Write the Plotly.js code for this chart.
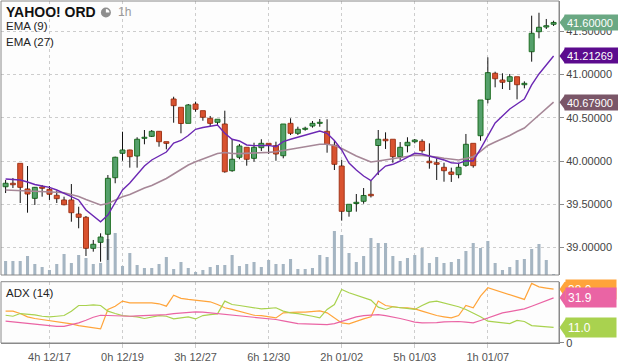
<!DOCTYPE html>
<html><head><meta charset="utf-8">
<script src="https://cdn.plot.ly/plotly-3.0.1.min.js"></script>
<style>html,body{margin:0;padding:0;background:#fff;}#chart{width:618px;height:363px;}</style>
</head><body><div id="chart"></div>
<script>
// ---- data ----
const tickIndex = [6,16,26,36,46,56,66];
const tickLabels = ['4h 12/17','0h 12/19','3h 12/27','6h 12/30','2h 01/02','5h 01/03','1h 01/07'];

const openP  = [39.703,39.743,39.973,39.677,39.569,39.700,39.673,39.604,39.550,39.550,39.388,39.350,38.992,39.061,39.154,39.807,40.089,40.127,40.058,40.262,40.285,40.343,40.223,40.716,40.620,40.435,40.658,40.581,40.493,40.447,40.427,39.888,40.043,40.158,40.031,40.154,40.204,40.177,40.061,40.435,40.320,40.366,40.404,40.435,40.343,40.182,39.942,39.419,39.509,39.535,39.615,40.179,40.251,40.251,40.050,40.177,40.223,40.227,39.997,39.980,39.927,39.873,39.842,39.950,40.204,40.292,40.712,41.013,40.935,40.920,40.973,40.881,41.262,41.493,41.547,41.579];
const highP  = [39.781,39.804,39.973,39.942,39.700,39.723,39.711,39.657,39.588,39.734,39.472,39.365,39.088,39.165,39.838,40.050,40.338,40.130,40.274,40.358,40.358,40.346,40.223,40.742,40.620,40.658,40.685,40.581,40.520,40.482,40.581,40.251,40.196,40.158,40.211,40.251,40.204,40.223,40.427,40.493,40.396,40.396,40.462,40.485,40.482,40.242,40.012,39.500,39.619,39.688,39.773,40.358,40.331,40.251,40.219,40.274,40.254,40.251,40.204,40.031,39.980,39.923,39.980,40.312,40.204,40.704,41.197,41.031,41.013,41.005,40.973,40.920,41.678,41.712,41.640,41.620];
const lowP   = [39.630,39.688,39.515,39.403,39.492,39.588,39.550,39.515,39.488,39.299,39.223,38.903,38.953,38.837,38.857,39.743,40.003,39.923,39.923,40.193,40.277,40.165,40.135,40.442,40.320,40.435,40.569,40.465,40.396,40.416,39.865,39.876,40.020,39.946,39.992,40.115,40.081,40.003,40.031,40.300,40.300,40.350,40.385,40.396,40.096,39.896,39.311,39.357,39.415,39.507,39.579,39.838,40.139,39.980,40.012,40.100,40.204,40.096,39.911,39.781,39.761,39.758,39.800,39.934,39.923,40.234,40.666,40.851,40.831,40.820,40.712,40.839,41.147,41.417,41.524,41.559];
const closeP = [39.743,39.726,39.696,39.619,39.696,39.685,39.616,39.565,39.495,39.403,39.350,38.992,39.038,39.122,39.800,40.043,40.127,40.050,40.251,40.274,40.343,40.223,40.204,40.639,40.433,40.647,40.597,40.505,40.435,40.482,39.876,40.020,40.173,40.020,40.158,40.204,40.185,40.081,40.427,40.320,40.366,40.378,40.435,40.447,40.193,39.962,39.419,39.500,39.523,39.602,39.599,40.251,40.234,40.050,40.158,40.216,40.242,40.119,39.980,39.962,39.888,39.846,39.927,40.193,39.946,40.704,41.020,40.950,40.909,40.973,40.881,40.897,41.475,41.544,41.562,41.600];

const volume = [14,14,14,19,11,8,5,11,21,12,20,17,11,12,36,42,9,22,10,7,7,11,18,6,13,7,3,5,8,10,10,20,9,11,13,8,15,11,11,16,6,6,7,20,18,44,40,22,13,19,37,32,32,19,14,17,20,27,12,18,12,13,16,24,32,27,34,12,5,8,15,16,26,31,15,1];

const ema9  = [39.792,39.786,39.781,39.757,39.729,39.711,39.696,39.665,39.625,39.584,39.550,39.434,39.365,39.299,39.376,39.515,39.665,39.746,39.838,39.942,40.012,40.058,40.104,40.208,40.237,40.294,40.366,40.387,40.404,40.416,40.320,40.251,40.231,40.185,40.177,40.181,40.181,40.165,40.223,40.251,40.274,40.297,40.320,40.346,40.320,40.237,40.127,39.977,39.896,39.827,39.773,39.867,39.942,39.962,40.000,40.043,40.089,40.081,40.058,40.038,40.012,39.980,39.973,40.003,40.000,40.139,40.289,40.439,40.520,40.600,40.658,40.716,40.878,41.005,41.109,41.21269];
const ema27 = [39.665,39.662,39.659,39.658,39.656,39.651,39.646,39.640,39.634,39.613,39.590,39.555,39.521,39.492,39.509,39.550,39.588,39.613,39.654,39.688,39.717,39.757,39.798,39.850,39.902,39.954,39.992,40.023,40.054,40.087,40.098,40.087,40.085,40.087,40.092,40.095,40.100,40.107,40.121,40.139,40.156,40.170,40.182,40.193,40.193,40.179,40.144,40.098,40.058,40.023,39.988,40.000,40.012,40.023,40.038,40.052,40.066,40.064,40.058,40.046,40.031,40.020,40.012,40.029,40.050,40.110,40.179,40.219,40.254,40.294,40.341,40.381,40.456,40.531,40.600,40.679];

const adxOrange = [22.5,22.5,20.8,18.5,17.3,16.6,15.9,15.4,14.7,13.5,12.3,11.4,10.7,10.0,23.7,26.0,29.6,28.4,28.4,28.6,28.4,27.7,26.0,33.8,31.5,30.8,30.3,29.8,29.1,27.2,24.9,23.7,22.5,21.3,19.6,19.4,18.5,17.7,21.3,21.8,21.8,21.8,22.2,22.7,21.3,17.7,14.2,13.5,15.4,17.0,18.5,29.6,26.5,25.6,24.9,24.9,24.1,22.5,20.8,19.4,18.5,17.7,19.4,26.5,24.9,33.1,39.0,37.4,36.0,34.3,32.6,30.8,42.1,39.7,38.8,38.0];
const adxGreen  = [19.6,18.9,20.8,20.6,19.9,18.9,18.5,18.9,19.4,22.5,26.5,26.5,27.0,26.5,22.5,20.8,19.4,18.9,18.5,17.3,18.5,19.4,18.9,17.0,17.7,18.5,17.0,19.4,20.1,20.6,29.6,27.2,26.5,25.6,24.6,24.1,24.4,24.9,22.5,21.3,20.8,20.1,18.9,17.7,23.7,27.2,37.8,35.5,33.8,31.9,30.3,25.3,23.7,25.6,24.9,24.1,23.7,26.5,28.9,29.6,28.4,27.2,25.6,23.7,21.3,18.5,15.4,14.7,14.2,13.7,15.9,15.2,12.3,11.8,11.4,11.0];
const adxPink   = [15.4,14.9,14.2,13.7,13.3,12.8,12.3,11.8,11.8,13.0,14.2,16.1,18.2,19.6,19.4,18.9,18.9,18.9,19.2,19.4,19.4,19.6,20.1,20.8,21.3,21.8,22.0,21.8,21.3,20.8,20.1,19.6,19.4,18.9,18.5,18.0,17.5,16.6,15.6,14.7,13.7,13.5,13.5,13.0,13.0,13.7,15.4,17.0,18.5,19.4,19.9,20.1,19.4,18.5,17.3,16.1,14.7,14.2,14.2,14.4,14.9,15.2,15.2,14.7,14.2,15.9,17.7,19.6,21.3,22.2,23.2,24.1,26.0,27.9,30.0,31.9];

// ---- derived drawing arrays ----
const N = closeP.length;
const idx = closeP.map((_, i) => i);
const isUp = idx.map(i => closeP[i] >= openP[i]);
const bodyBase = idx.map(i => Math.min(openP[i], closeP[i]));
const bodyLen = idx.map(i => Math.abs(closeP[i] - openP[i]));
const wickX = [], wickY = [];
idx.forEach(i => {
  const top = Math.max(openP[i], closeP[i]), bot = Math.min(openP[i], closeP[i]);
  wickX.push(i, i, null, i, i, null);
  wickY.push(highP[i], top, null, bot, lowP[i], null);
});

const FONT = 'Liberation Sans, Arial, sans-serif';
const UPF = '#55a06b', UPL = '#1d6e22', DNF = '#d9522f', DNL = '#a2361a';

const traces = [
  {type:'bar', x:idx, y:volume, xaxis:'x', yaxis:'y', width:0.42,
   marker:{color:'#a5b5c2', line:{width:0}}, hoverinfo:'skip'},
  {type:'bar', x:idx, y:bodyLen, base:bodyBase, xaxis:'x', yaxis:'y3', width:0.68,
   marker:{color:isUp.map(u => u ? UPF : DNF), line:{color:isUp.map(u => u ? UPL : DNL), width:1}}, hoverinfo:'skip'},
  {type:'scatter', mode:'lines', x:wickX, y:wickY, xaxis:'x', yaxis:'y3',
   line:{color:'#111', width:1}, connectgaps:false, hoverinfo:'skip'},
  {type:'scatter', mode:'lines', x:idx, y:ema27, xaxis:'x', yaxis:'y3',
   line:{color:'#a68797', width:1.6}, hoverinfo:'skip'},
  {type:'scatter', mode:'lines', x:idx, y:ema9, xaxis:'x', yaxis:'y3',
   line:{color:'#6b27b3', width:1.4}, hoverinfo:'skip'},
  {type:'scatter', mode:'lines', x:idx, y:adxOrange, xaxis:'x', yaxis:'y2',
   line:{color:'#ffa43a', width:1.2}, hoverinfo:'skip'},
  {type:'scatter', mode:'lines', x:idx, y:adxGreen, xaxis:'x', yaxis:'y2',
   line:{color:'#a9d24f', width:1.2}, hoverinfo:'skip'},
  {type:'scatter', mode:'lines', x:idx, y:adxPink, xaxis:'x', yaxis:'y2',
   line:{color:'#ea64a4', width:1.2}, hoverinfo:'skip'}
];

const shapes = [], annotations = [];
function tag(val, yref, color, text, h, w, tipw, size) {
  shapes.push({type:'path', xref:'paper', yref:yref, xsizemode:'pixel', ysizemode:'pixel',
    xanchor:1, yanchor:val, path:`M 0.5 0 L ${tipw+1} ${h/2} L ${tipw+1} ${-h/2} Z`,
    fillcolor:color, line:{width:0}, layer:'above'});
  annotations.push({xref:'paper', yref:yref, x:1, y:val, xanchor:'left', yanchor:'middle',
    xshift:tipw, text:text, showarrow:false, bgcolor:color, width:w-4, height:h-4,
    borderpad:2, align:'left', font:{family:FONT, size:size, color:'#fff'}});
}
tag(closeP[N-1], 'y3', '#6aa883', closeP[N-1].toFixed(5), 15, 53, 5, 11);
tag(ema9[N-1], 'y3', '#5c0b8e', ema9[N-1].toFixed(5), 15, 53, 5, 11);
tag(ema27[N-1], 'y3', '#7a5668', ema27[N-1].toFixed(5), 15, 53, 5, 11);
tag(adxOrange[N-1], 'y2', '#ffa43a', adxOrange[N-1].toFixed(1), 19, 50, 6, 12);
tag(adxGreen[N-1], 'y2', '#a9d24f', adxGreen[N-1].toFixed(1), 19, 50, 6, 12);
tag(adxPink[N-1], 'y2', '#ea64a4', adxPink[N-1].toFixed(1), 19, 50, 6, 12);

// panel frames
shapes.unshift({type:'rect', xref:'paper', yref:'y domain', x0:0, x1:1, y0:0, y1:1,
  line:{color:'#8a8a8a', width:1}, layer:'above'});
shapes.unshift({type:'rect', xref:'paper', yref:'y2 domain', x0:0, x1:1, y0:0, y1:1,
  line:{color:'#8a8a8a', width:1}, layer:'above'});

// clock icon
shapes.push({type:'circle', xref:'paper', yref:'paper', xsizemode:'pixel', ysizemode:'pixel',
  xanchor:0.188, yanchor:0.9664, x0:-5, x1:5, y0:-5, y1:5, fillcolor:'#8e8e8e', line:{width:0}});
shapes.push({type:'path', xref:'paper', yref:'paper', xsizemode:'pixel', ysizemode:'pixel',
  xanchor:0.188, yanchor:0.9664, path:'M 0 0 L 0 3.6 L 1.4 3.3 L 2.5 2.5 L 3.3 1.4 L 3.6 0 Z',
  fillcolor:'#ffffff', line:{width:0}});

const hdr = (text, x, y, size, color) => ({xref:'paper', yref:'paper', x:x, y:y, xanchor:'left',
  yanchor:'middle', text:text, showarrow:false, font:{family:FONT, size:size, color:color}});
annotations.unshift(
  hdr('<b>YAHOO! ORD</b>', 0.0045, 0.9664, 14, '#111'),
  hdr('1h', 0.2065, 0.9664, 12, '#9a9a9a'),
  hdr('EMA (9)', 0.0045, 0.926, 11.5, '#222'),
  hdr('EMA (27)', 0.0045, 0.881, 11.5, '#222'),
  hdr('ADX (14)', 0.0045, 0.147, 11.5, '#222')
);

const layout = {
  width:618, height:363, margin:{l:1, r:59, t:1, b:20},
  paper_bgcolor:'#ffffff', plot_bgcolor:'#fdfdfd',
  showlegend:false, barmode:'overlay', hovermode:false,
  font:{family:FONT, size:11, color:'#555'},
  xaxis:{domain:[0,1], anchor:'y2', range:[-0.63,75.74], tickvals:tickIndex, ticktext:tickLabels,
    showgrid:true, gridcolor:'#cdcdcd', griddash:'dot', gridwidth:1, zeroline:false,
    ticks:'outside', ticklen:4, tickcolor:'#cdcdcd', showline:true, linecolor:'#8a8a8a', linewidth:1,
    tickfont:{family:FONT, size:11, color:'#555'}, fixedrange:true},
  yaxis:{domain:[0.19883,1], range:[0,274], showgrid:false, zeroline:false, showticklabels:false,
    ticks:'', showline:false, fixedrange:true},
  yaxis3:{overlaying:'y', side:'right', anchor:'x', range:[38.6836,41.8476],
    tickvals:[39,39.5,40,40.5,41,41.5], tickformat:'.5f',
    showgrid:true, gridcolor:'#cdcdcd', griddash:'dot', gridwidth:1, zeroline:false,
    ticks:'outside', ticklen:4, tickcolor:'#8a8a8a', showline:true, linecolor:'#8a8a8a', linewidth:1,
    tickfont:{family:FONT, size:11, color:'#444'}, fixedrange:true},
  yaxis2:{domain:[0,0.17924], anchor:'x', side:'right', range:[0,43.3], tickvals:[0],
    showgrid:false, zeroline:false, ticks:'outside', ticklen:4, tickcolor:'#8a8a8a',
    showline:true, linecolor:'#8a8a8a', linewidth:1,
    tickfont:{family:FONT, size:11, color:'#444'}, fixedrange:true},
  shapes:shapes, annotations:annotations
};

Plotly.newPlot('chart', traces, layout, {staticPlot:true, displayModeBar:false});
</script>
</body></html>
